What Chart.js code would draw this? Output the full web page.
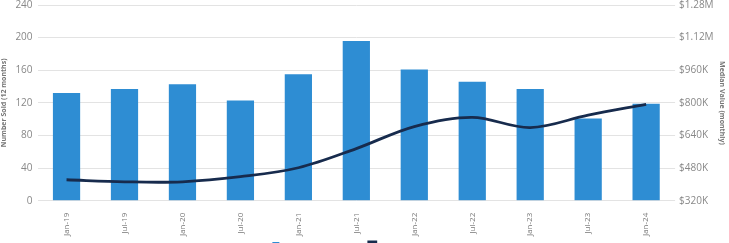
<!DOCTYPE html>
<html><head><meta charset="utf-8">
<script src="https://cdn.jsdelivr.net/npm/chart.js@4/dist/chart.umd.min.js"></script>
<style>
html,body{margin:0;padding:0;background:#fff;}
#wrap{position:relative;width:729px;height:243px;overflow:hidden;}
#box{position:absolute;left:0;top:-6px;width:729px;height:265px;}
</style></head><body>
<div id="wrap"><div id="box"><canvas id="c"></canvas></div></div>
<script>
const categories = ["Jan-19","Jul-19","Jan-20","Jul-20","Jan-21","Jul-21","Jan-22","Jul-22","Jan-23","Jul-23","Jan-24"];
const numberSold = [132,137,143,123,155,196,161,146,137,101,119];
const medianValue = [423000,413000,413000,438000,482000,576000,684000,729000,679000,740000,793000];
const leftTicks = [0,40,80,120,160,200,240];
const rightTicks = [320000,480000,640000,800000,960000,1120000,1280000];

function money(v){ return v>=1000000 ? "$"+(v/1000000).toFixed(2)+"M" : "$"+Math.round(v/1000)+"K"; }

new Chart(document.getElementById('c'), {
  data: {
    labels: categories,
    datasets: [
      { type:'line', label:'Median Value (monthly)', data: medianValue, yAxisID:'y1',
        borderColor:'#172b4d', backgroundColor:'#172b4d', borderWidth:2.8, pointRadius:0, tension:0.35, order:0 },
      { type:'bar', label:'Number Sold (12 months)', data: numberSold, yAxisID:'y',
        backgroundColor:'#2e8dd3', barPercentage:0.47, categoryPercentage:1.0, order:1 }
    ]
  },
  options: {
    responsive:true, maintainAspectRatio:false, animation:false,
    layout:{ padding:{left:0,right:0,top:0,bottom:0} },
    plugins:{
      legend:{ position:'bottom', reverse:true,
        labels:{ font:{family:'Open Sans', size:7}, color:'#999', boxWidth:7, boxHeight:7, padding:2 } },
      tooltip:{enabled:false}
    },
    scales:{
      x:{ grid:{display:false}, border:{display:false},
        ticks:{ font:{family:'Open Sans', size:8}, color:'#777', maxRotation:90, minRotation:90, padding:4 } },
      y:{ position:'left', min:0, max:240,
        afterBuildTicks: a => { a.ticks = leftTicks.map(v=>({value:v})); },
        grid:{ color:'#e3e3e3', drawTicks:false }, border:{display:false},
        ticks:{ font:{family:'Open Sans', size:10}, color:'#888', padding:5 },
        title:{ display:true, text:'Number Sold (12 months)', font:{family:'Open Sans', size:7, weight:'bold'}, color:'#777', padding:{top:0,bottom:2} } },
      y1:{ position:'right', min:320000, max:1280000,
        afterBuildTicks: a => { a.ticks = rightTicks.map(v=>({value:v})); },
        grid:{ display:false, drawTicks:false }, border:{display:false},
        ticks:{ font:{family:'Open Sans', size:10}, color:'#888', padding:4, callback: v => money(v) },
        title:{ display:true, text:'Median Value (monthly)', font:{family:'Open Sans', size:7, weight:'bold'}, color:'#777', padding:{top:3,bottom:0} } }
    }
  }
});
</script>
</body></html>
